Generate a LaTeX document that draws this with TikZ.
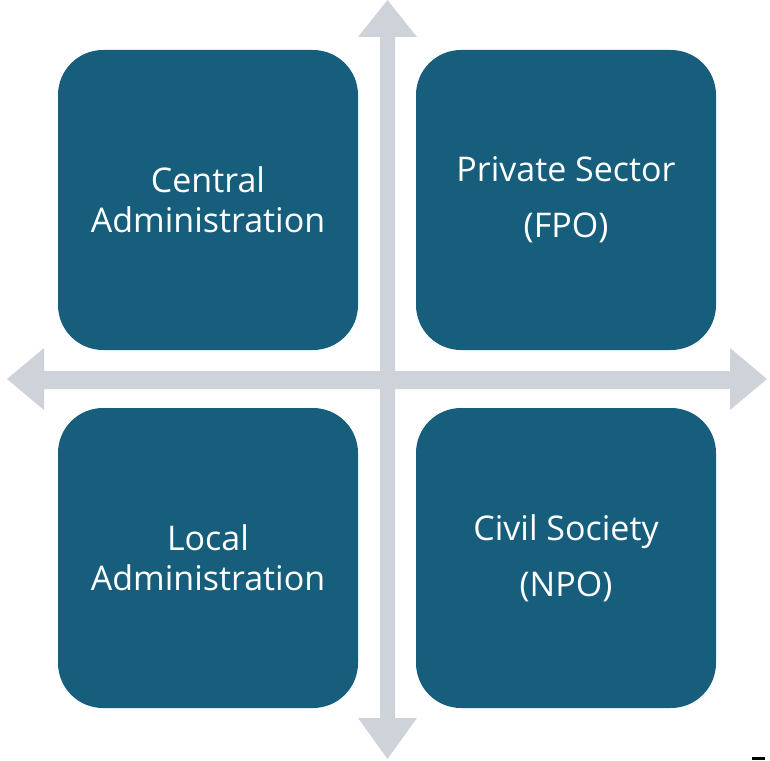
\documentclass[tikz,border=0pt]{standalone}
\usepackage{fontspec}
\setmainfont{Open Sans}
\definecolor{boxblue}{RGB}{23,94,125}
\definecolor{arrowgray}{RGB}{206,211,217}
\begin{document}
\begin{tikzpicture}[x=1pt,y=-1pt,
  quad/.style={fill=boxblue, draw=none, rounded corners=45pt, minimum width=300pt, minimum height=300pt, text=white, align=center, inner sep=0pt},
  tight/.style={font=\fontsize{34}{40}\selectfont},
  loose/.style={font=\fontsize{34}{56}\selectfont},
  axis/.style={fill=arrowgray, draw=none}]
\useasboundingbox (0,0) rectangle (770,760);
% vertical double arrow
\fill[axis] (387.5,0) -- (417,37) -- (395,37) -- (395,718) -- (417,718) -- (387.5,759)
  -- (358,718) -- (380,718) -- (380,37) -- (358,37) -- cycle;
% horizontal double arrow
\fill[axis] (7,379) -- (44,348) -- (44,371) -- (730,371) -- (730,348) -- (767,379)
  -- (730,410) -- (730,389) -- (44,389) -- (44,410) -- cycle;
\node[quad,tight] (central) at (208,200) {Central\\Administration};
\node[quad,loose] (private) at (566,200) {Private Sector\\(FPO)};
\node[quad,tight] (local) at (208,558) {Local\\Administration};
\node[quad,loose] (civil) at (566,558) {Civil Society\\(NPO)};
\fill[black] (752,757) rectangle (765,760);
\end{tikzpicture}
\end{document}
